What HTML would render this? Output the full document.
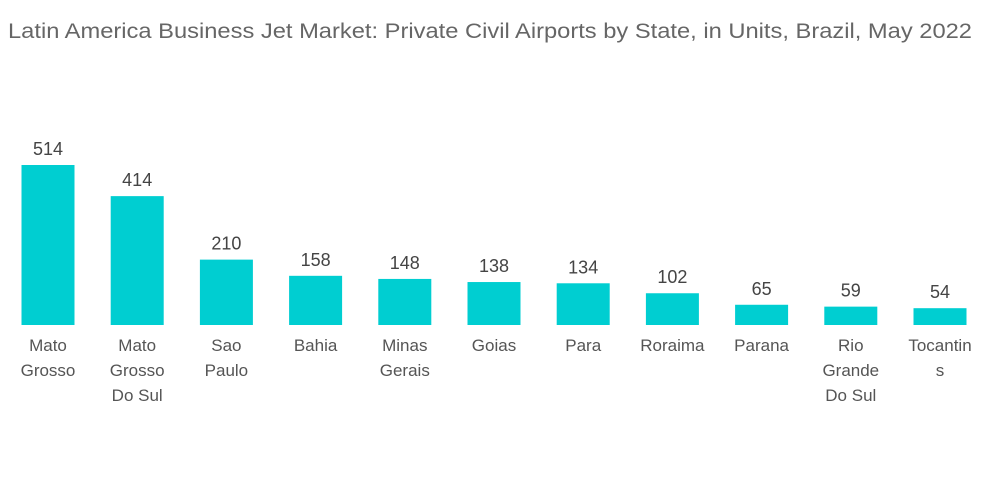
<!DOCTYPE html>
<html><head><meta charset="utf-8"><style>
body{margin:0;background:#fff;}
svg{display:block;font-family:"Liberation Sans",sans-serif;}
</style></head><body>
<svg id="chart" width="1000" height="504">
<text x="8" y="38" font-size="21" fill="#666" textLength="964" lengthAdjust="spacingAndGlyphs">Latin America Business Jet Market: Private Civil Airports by State, in Units, Brazil, May 2022</text>
<g id="bars"></g>
</svg>
<script>
const categories=[["Mato","Grosso"],["Mato","Grosso","Do Sul"],["Sao","Paulo"],["Bahia"],["Minas","Gerais"],["Goias"],["Para"],["Roraima"],["Parana"],["Rio","Grande","Do Sul"],["Tocantin","s"]];
const values=[514,414,210,158,148,138,134,102,65,59,54];
const baseY=325, scale=160/514, x0=48, step=89.2, bw=53;
const yPos=v=>baseY-v*scale;
const xPos=i=>x0+i*step;
const g=document.getElementById('bars');
const NS='http://www.w3.org/2000/svg';
values.forEach((v,i)=>{
  const r=document.createElementNS(NS,'rect');
  
  
  r.setAttribute('x',xPos(i)-bw/2);r.setAttribute('y',yPos(v));
  r.setAttribute('width',bw);r.setAttribute('height',baseY-yPos(v));
  r.setAttribute('fill','#00CED1');
  g.appendChild(r);
  const t=document.createElementNS(NS,'text');
  
  
  t.setAttribute('x',xPos(i));t.setAttribute('y',yPos(v)-10);
  t.setAttribute('text-anchor','middle');t.setAttribute('font-size','18');t.setAttribute('fill','#444');
  t.textContent=v;g.appendChild(t);
  categories[i].forEach((line,j)=>{
    const c=document.createElementNS(NS,'text');
    
    
    c.setAttribute('x',xPos(i));c.setAttribute('y',351+j*25);
    c.setAttribute('text-anchor','middle');c.setAttribute('font-size','17');c.setAttribute('fill','#555');
    c.textContent=line;g.appendChild(c);
  });
});
</script>
</body></html>
